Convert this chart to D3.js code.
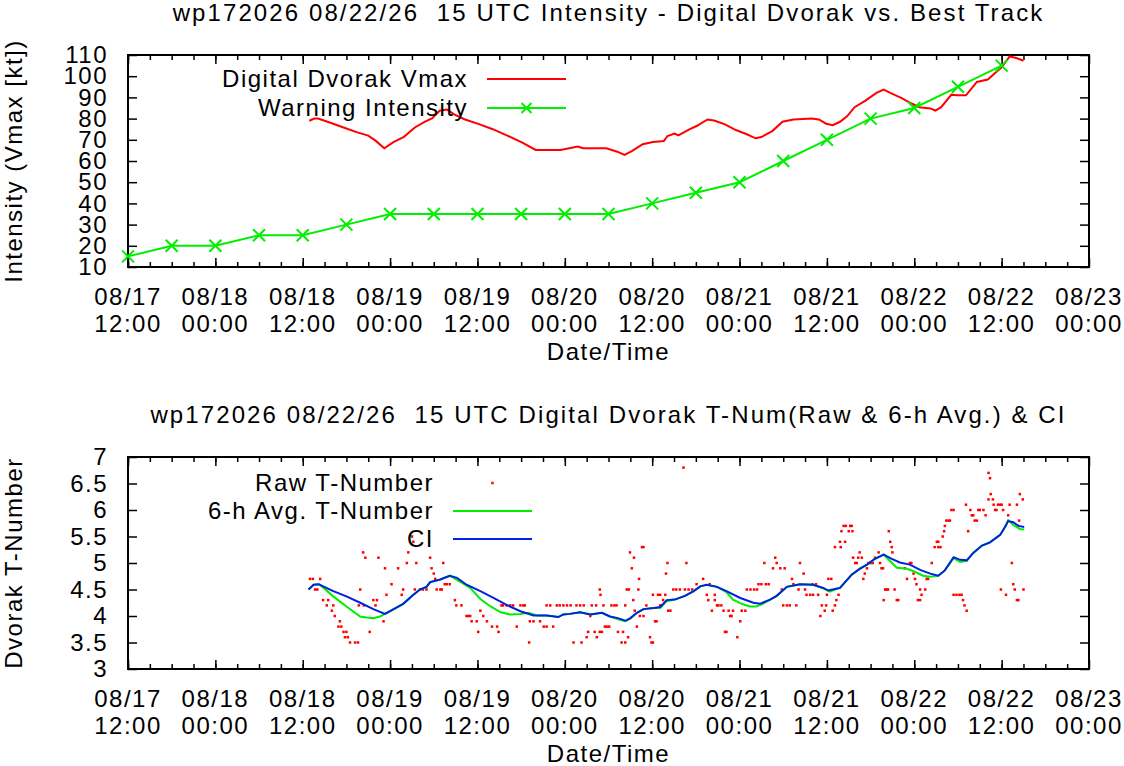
<!DOCTYPE html>
<html>
<head>
<meta charset="utf-8">
<script src="https://cdn.jsdelivr.net/npm/d3@7"></script>
<style>
  html, body { margin: 0; padding: 0; background: #fff; }
  svg text { font-family: "Liberation Sans", Arial, sans-serif; font-size: 24px; letter-spacing: 1.5px; fill: #000; }
  svg text.title { letter-spacing: 2.1px; white-space: pre; }
</style>
</head>
<body>
<div id="chart"></div>
<script>
// times are hours after 08/17 12:00 UTC
const START = Date.UTC(2026, 7, 17, 12);

const xTickHours = [0, 12, 24, 36, 48, 60, 72, 84, 96, 108, 120, 132];
const xTickLabels = [
  ['08/17', '12:00'], ['08/18', '00:00'], ['08/18', '12:00'], ['08/19', '00:00'],
  ['08/19', '12:00'], ['08/20', '00:00'], ['08/20', '12:00'], ['08/21', '00:00'],
  ['08/21', '12:00'], ['08/22', '00:00'], ['08/22', '12:00'], ['08/23', '00:00']
];

const vmaxTicks = [10, 20, 30, 40, 50, 60, 70, 80, 90, 100, 110];
const tnumTicks = [3, 3.5, 4, 4.5, 5, 5.5, 6, 6.5, 7];

// best track / warning intensity, every 6 h
const warnHours = [0, 6, 12, 18, 24, 30, 36, 42, 48, 54, 60, 66, 72, 78, 84, 90, 96, 102, 108, 114, 120];
const warnKt = [15, 20, 20, 25, 25, 30, 35, 35, 35, 35, 35, 35, 40, 45, 50, 60, 70, 80, 85, 95, 105];

// digital dvorak vmax [hour, kt]
const vmax = [
  [24.9, 79], [25.6, 80], [26.1, 80], [28.1, 77.7], [29.6, 75.8], [31.5, 73.5], [33, 72], [34, 69.6],
  [35.2, 66], [36.4, 68.8], [37.9, 71.4], [39.4, 75.8], [40.8, 78.6], [41.8, 80.2], [42.8, 83.7],
  [43.8, 84.3], [44.8, 82], [46.2, 79.7], [48.2, 77.4], [50.1, 75], [52.1, 72], [54.1, 68.8],
  [56, 65.2], [59.4, 65.2], [61.8, 66.8], [62.5, 66], [65.7, 66], [67.2, 64.4], [68.2, 62.9],
  [69.2, 64.7], [70.7, 67.9], [72.1, 69], [73.6, 69.4], [74.1, 71.8], [75.1, 72.9], [75.6, 72.1],
  [77.1, 74.9], [78.1, 76.5], [79.6, 79.6], [80.5, 79.1], [82, 77.3], [83.5, 74.6], [85, 72.6],
  [86.2, 70.7], [87, 71.3], [88.5, 74.1], [89.9, 78.5], [91.4, 79.6], [93.9, 80.1], [94.9, 79.6],
  [95.9, 77.6], [96.8, 76.9], [97.8, 78.5], [98.8, 81.2], [99.8, 85.4], [101.3, 88.5], [102.8, 92.1],
  [103.8, 93.7], [104.7, 92.1], [106.2, 89.8], [107.7, 87], [108.7, 85.4], [110.2, 84.8],
  [110.9, 83.8], [111.7, 85.4], [113.1, 91.3], [113.9, 91], [115.1, 91], [116.6, 97.3],
  [118.1, 98.4], [119.1, 101.5], [120, 104.2], [121.1, 109.3], [122, 108.6], [123, 107.3]
];

// current intensity (CI) [hour, T]
const ci = [
  [24.8, 4.50], [25.5, 4.59], [26.2, 4.60], [26.8, 4.56], [28.2, 4.47], [30, 4.37], [31.9, 4.25],
  [33.7, 4.13], [35.3, 4.04], [36.5, 4.13], [37.8, 4.23], [39.2, 4.40], [40.1, 4.50], [41, 4.55],
  [41.5, 4.64], [42.9, 4.69], [44.2, 4.76], [45.2, 4.72], [46.5, 4.59], [48.4, 4.47], [50.2, 4.34],
  [52, 4.21], [53.9, 4.09], [55.7, 4.01], [57.5, 4.01], [59.1, 3.98], [59.8, 4.03], [60.7, 4.04],
  [62.1, 4.07], [63.5, 4.03], [65.1, 4.06], [66.2, 3.99], [67.3, 3.96], [68.3, 3.91], [69, 3.96],
  [69.9, 4.06], [70.8, 4.13], [72.2, 4.15], [73.1, 4.17], [74, 4.30], [75.1, 4.31], [76.5, 4.38],
  [77.7, 4.47], [78.6, 4.56], [79.5, 4.59], [80.9, 4.55], [82.2, 4.47], [84.1, 4.34], [85.9, 4.25],
  [86.8, 4.23], [88.2, 4.31], [89.1, 4.38], [90.5, 4.55], [92.3, 4.60], [94.1, 4.59], [95.5, 4.53],
  [96.2, 4.48], [97.1, 4.51], [97.8, 4.53], [98.5, 4.64], [99.4, 4.78], [100.5, 4.89], [101.5, 4.97],
  [102.6, 5.08], [103.8, 5.16], [104.7, 5.09], [106, 5.01], [107.4, 4.97], [108.8, 4.87],
  [110.2, 4.80], [111.3, 4.76], [112.2, 4.86], [113.4, 5.11], [114.3, 5.06], [115.2, 5.05],
  [116.1, 5.19], [117.3, 5.33], [118.4, 5.39], [119.8, 5.53], [120.5, 5.69], [120.9, 5.79],
  [121.6, 5.77], [122.3, 5.70], [123.1, 5.68]
];

// 6-h average T-number [hour, T]
const avg6h = [
  [24.8, 4.50], [25.5, 4.59], [26.2, 4.60], [26.8, 4.54], [28.2, 4.37], [30, 4.18], [31.9, 3.99],
  [32.8, 3.97], [33.7, 3.96], [34.6, 3.99], [35.3, 4.04], [36.5, 4.13], [37.8, 4.23], [39.2, 4.40],
  [40.1, 4.50], [41, 4.55], [41.5, 4.64], [42.9, 4.69], [44.2, 4.76], [45.6, 4.65], [47, 4.53],
  [48.4, 4.32], [49.8, 4.18], [51.2, 4.07], [52.5, 4.03], [53.9, 4.04], [55, 4.06], [56.2, 4.01],
  [57.5, 4.01], [59.1, 3.98], [59.8, 4.03], [60.7, 4.04], [62.1, 4.07], [63.5, 4.03], [65.1, 4.06],
  [66.2, 3.99], [67.3, 3.94], [68.3, 3.90], [69, 3.95], [69.9, 4.06], [70.8, 4.13], [72.2, 4.15],
  [73.1, 4.15], [74, 4.28], [75.1, 4.31], [76.5, 4.38], [77.7, 4.47], [78.6, 4.56], [79.5, 4.59],
  [80.9, 4.55], [82.2, 4.45], [83.1, 4.31], [84.3, 4.23], [85.4, 4.18], [86.3, 4.18], [87.2, 4.23],
  [88.2, 4.31], [89.1, 4.38], [90.5, 4.55], [92.3, 4.60], [94.1, 4.59], [95.5, 4.52], [96.4, 4.46],
  [97.1, 4.50], [97.8, 4.53], [98.5, 4.64], [99.4, 4.78], [100.5, 4.89], [101.5, 4.97], [102.6, 5.08],
  [103.8, 5.16], [104.5, 5.06], [105.6, 4.91], [107, 4.89], [108, 4.84], [109.2, 4.76], [110.2, 4.74],
  [111.3, 4.76], [112.2, 4.86], [113.4, 5.09], [114.3, 5.02], [115.2, 5.04], [116.1, 5.19],
  [117.3, 5.33], [118.4, 5.39], [119.8, 5.53], [120.5, 5.69], [120.9, 5.81], [121.6, 5.72],
  [122.5, 5.64], [123.1, 5.63]
];

// raw T-number [hour, T]
const rawT = [
  [25.0, 4.7], [25.4, 4.7], [25.7, 4.5], [26.0, 4.5], [26.4, 4.7], [26.8, 4.3], [27.3, 4.2], [27.5, 4.3],
  [28.0, 4.1], [28.2, 4.2], [28.4, 4.0], [28.9, 3.8], [29.1, 3.9], [29.3, 3.8], [29.6, 3.7], [29.8, 3.6],
  [30.0, 3.7], [30.2, 3.6], [30.5, 3.5], [31.2, 3.5], [31.6, 3.5], [31.7, 4.2], [31.9, 4.5], [32.3, 5.2],
  [32.4, 4.2], [32.6, 5.1], [33.2, 3.7], [33.7, 4.3], [34.0, 4.2], [34.2, 4.3], [34.4, 5.1], [35.1, 3.9],
  [35.3, 4.9], [35.5, 4.4], [36.2, 4.6], [37.1, 4.9], [37.6, 4.4], [37.8, 4.5], [38.3, 5.0], [38.5, 5.2],
  [39.0, 5.5], [39.2, 5.4], [39.4, 4.5], [39.6, 5.0], [40.1, 4.5], [40.5, 4.5], [41.0, 4.5], [41.5, 5.1],
  [41.7, 4.9], [42.0, 4.8], [42.2, 4.7], [42.4, 4.5], [42.9, 4.5], [43.1, 4.5], [43.3, 5.0], [43.5, 4.6],
  [43.8, 4.6], [44.2, 4.6], [44.9, 4.3], [45.1, 4.2], [45.8, 4.2], [46.5, 4.0], [46.7, 4.0], [47.0, 4.0],
  [47.2, 3.9], [47.9, 3.9], [48.1, 3.7], [48.4, 4.1], [48.8, 4.0], [49.3, 3.9], [50.0, 3.8], [50.7, 3.8],
  [50.9, 3.7], [51.3, 4.2], [51.5, 4.2], [52.0, 4.2], [52.5, 4.2], [52.9, 4.2], [53.4, 3.8], [53.9, 4.2],
  [54.3, 4.2], [54.5, 4.2], [55.1, 3.5], [55.2, 3.9], [55.7, 3.9], [56.6, 3.9], [57.1, 3.8], [57.5, 3.8],
  [57.5, 4.2], [58.0, 4.2], [58.4, 3.8], [58.9, 4.2], [59.3, 4.2], [59.8, 4.2], [60.3, 4.2], [60.8, 4.2],
  [61.2, 3.5], [61.6, 4.2], [62.1, 4.2], [62.3, 3.5], [62.6, 4.2], [63.0, 3.6], [63.2, 3.7], [63.5, 4.0],
  [63.7, 4.2], [64.1, 3.7], [64.3, 4.2], [64.4, 3.6], [64.8, 3.7], [64.8, 4.5], [64.9, 4.4], [65.1, 3.7],
  [65.3, 4.2], [65.5, 3.8], [65.8, 3.8], [66.1, 3.8], [66.4, 4.2], [66.8, 4.2], [67.1, 4.2], [67.3, 3.7],
  [67.8, 3.5], [68.0, 3.7], [68.3, 3.5], [68.3, 4.2], [68.5, 4.5], [68.7, 3.6], [68.8, 4.5], [68.95, 5.2],
  [69.2, 4.9], [69.4, 4.3], [69.5, 5.1], [69.6, 4.1], [69.9, 3.8], [70.1, 4.5], [70.2, 4.7], [70.3, 4.0],
  [70.6, 5.3], [70.8, 5.3], [70.8, 4.0], [71.2, 4.2], [71.7, 3.6], [71.9, 3.5], [72.1, 3.5], [72.1, 4.4],
  [72.4, 3.9], [72.6, 3.9], [72.8, 4.4], [73.1, 4.4], [73.1, 4.2], [73.3, 4.2], [73.5, 4.3], [73.8, 4.4],
  [73.9, 4.8], [74.1, 5.0], [74.2, 4.1], [74.5, 4.1], [74.9, 4.5], [75.3, 4.5], [75.8, 4.5], [76.3, 6.8],
  [76.5, 4.5], [76.7, 5.0], [77.0, 4.5], [77.5, 4.5], [78.1, 4.6], [79.0, 4.7], [79.5, 4.4], [79.7, 4.3],
  [79.9, 4.6], [80.2, 4.1], [80.6, 4.3], [80.6, 4.4], [80.9, 4.2], [81.1, 4.2], [81.5, 4.2], [81.8, 4.1],
  [82.0, 3.7], [82.2, 3.7], [82.5, 4.1], [82.7, 4.0], [82.9, 4.0], [83.1, 4.1], [83.7, 3.6], [84.1, 3.9],
  [84.3, 4.1], [84.8, 4.1], [85.0, 4.5], [85.5, 4.5], [86.0, 4.5], [86.4, 4.5], [86.6, 4.6], [87.0, 4.6],
  [87.4, 5.0], [87.6, 4.6], [88.0, 4.6], [88.6, 4.9], [88.9, 5.1], [89.1, 5.0], [89.6, 4.9], [89.8, 4.5],
  [90.0, 4.2], [90.2, 4.9], [90.5, 4.2], [90.9, 4.2], [91.2, 4.7], [91.4, 4.6], [91.8, 4.2], [92.1, 4.5],
  [92.3, 5.0], [92.8, 4.8], [93.0, 4.5], [93.2, 4.4], [93.7, 4.4], [94.0, 4.6], [94.1, 4.4], [94.5, 4.6],
  [94.8, 4.4], [95.1, 4.0], [95.3, 4.2], [95.7, 4.1], [95.9, 4.2], [96.0, 4.4], [96.2, 4.7], [96.6, 4.7],
  [96.8, 4.1], [97.1, 4.2], [97.1, 5.3], [97.3, 4.3], [97.6, 4.4], [97.8, 5.4], [97.9, 5.3], [98.0, 5.6],
  [98.3, 5.7], [98.5, 5.4], [98.6, 5.7], [99.0, 5.6], [99.2, 5.7], [99.4, 5.7], [99.5, 5.6], [99.6, 5.1],
  [99.9, 5.0], [100.1, 5.0], [100.3, 5.1], [100.5, 5.2], [100.8, 5.1], [101.0, 4.7], [101.2, 4.8],
  [101.5, 4.9], [101.7, 5.0], [102.0, 5.0], [102.3, 5.0], [102.6, 5.1], [103.1, 5.2], [103.3, 5.0],
  [103.5, 4.9], [103.7, 4.9], [103.8, 4.3], [104.0, 4.5], [104.2, 4.5], [104.4, 4.5], [104.5, 5.6],
  [104.7, 5.4], [104.9, 5.3], [105.0, 5.2], [105.3, 4.5], [105.6, 4.3], [105.8, 4.3], [106.7, 4.9],
  [107.0, 4.7], [107.4, 5.0], [107.6, 5.0], [107.9, 4.8], [108.1, 4.7], [108.3, 4.6], [108.5, 4.3],
  [108.8, 4.5], [108.8, 4.3], [109.0, 4.4], [109.5, 4.5], [109.7, 4.7], [109.9, 4.7], [110.4, 5.0],
  [110.8, 5.3], [111.1, 5.4], [111.3, 5.4], [111.3, 5.3], [111.6, 5.3], [111.9, 5.5], [112.1, 5.6],
  [112.2, 5.7], [112.4, 5.8], [112.7, 5.8], [112.9, 5.8], [113.1, 6.0], [113.4, 6.0], [113.4, 4.4],
  [113.8, 4.4], [114.2, 4.4], [114.5, 4.4], [114.7, 4.3], [114.9, 4.2], [115.1, 6.1], [115.2, 4.1],
  [115.4, 5.6], [115.7, 6.0], [115.9, 5.9], [116.1, 5.9], [116.3, 5.8], [116.6, 5.8], [116.8, 6.0],
  [117.0, 6.0], [117.5, 6.0], [117.8, 5.9], [118.2, 6.2], [118.2, 6.7], [118.4, 6.6], [118.5, 6.3],
  [118.8, 6.2], [118.9, 6.1], [119.1, 6.0], [119.3, 6.0], [119.5, 6.1], [119.8, 6.1], [120.0, 6.1],
  [119.9, 4.5], [120.2, 6.0], [120.6, 4.4], [120.9, 5.9], [121.1, 6.1], [121.4, 5.0], [121.6, 4.6],
  [121.8, 4.5], [122.1, 4.3], [122.3, 4.3], [122.1, 6.1], [122.4, 5.8], [122.5, 6.3], [122.9, 6.2],
  [123.0, 4.5]
];

const RED = '#ff0000', GREEN = '#00ee00', BLUE = '#0022e0';
const W = 1124, H = 766;
const LEFT = 128, RIGHT = 1089;

function toDate(h) {
  return new Date(START + h * 3600 * 1000);
}

const svg = d3.select('#chart')
  .append('svg')
  .attr('xmlns', 'http://www.w3.org/2000/svg')
  .attr('width', W)
  .attr('height', H);

const x = d3.scaleUtc()
  .domain([toDate(0), toDate(132)])
  .range([LEFT, RIGHT]);

/**
 * Frame, ticks, tick labels and titles for one panel.
 */
function drawPanel(y, top, bottom, yTicks, title, yTitle) {
  const g = svg.append('g');
  const majors = xTickHours.map(toDate);
  const minors = d3.utcHour.every(3).range(toDate(0), toDate(132));

  // x ticks, bottom and mirrored on top, pointing inwards
  g.append('g').attr('transform', `translate(0,${bottom})`)
    .call(d3.axisBottom(x).tickValues(minors).tickSize(-5).tickFormat(''));
  g.append('g').attr('transform', `translate(0,${bottom})`)
    .call(d3.axisBottom(x).tickValues(majors).tickSize(-9).tickFormat(''));
  g.append('g').attr('transform', `translate(0,${top})`)
    .call(d3.axisTop(x).tickValues(minors).tickSize(-5).tickFormat(''));
  g.append('g').attr('transform', `translate(0,${top})`)
    .call(d3.axisTop(x).tickValues(majors).tickSize(-9).tickFormat(''));

  g.append('g').attr('transform', `translate(${LEFT},0)`)
    .call(d3.axisLeft(y).tickValues(yTicks).tickSize(-9).tickPadding(20).tickFormat(d3.format('')));
  g.append('g').attr('transform', `translate(${RIGHT},0)`)
    .call(d3.axisRight(y).tickValues(yTicks).tickSize(-9).tickFormat(''));

  g.selectAll('.domain').remove();
  g.selectAll('.tick line').attr('stroke', '#000').attr('stroke-width', 1.5);
  g.selectAll('.tick text')
    .attr('font-size', null)
    .attr('font-family', null)
    .attr('fill', '#000');

  g.append('rect')
    .attr('x', LEFT)
    .attr('y', top)
    .attr('width', RIGHT - LEFT)
    .attr('height', bottom - top)
    .attr('fill', 'none')
    .attr('stroke', '#000')
    .attr('stroke-width', 2);

  const lab = g.append('g')
    .selectAll('text')
    .data(xTickLabels)
    .join('text')
    .attr('text-anchor', 'middle')
    .attr('transform', (d, i) => `translate(${x(majors[i])},${bottom + 38})`);
  lab.append('tspan').attr('x', 0).attr('y', 0).text(d => d[0]);
  lab.append('tspan').attr('x', 0).attr('y', 27).text(d => d[1]);

  g.append('text')
    .attr('x', (LEFT + RIGHT) / 2)
    .attr('y', bottom + 93)
    .attr('text-anchor', 'middle')
    .text('Date/Time');

  g.append('text')
    .attr('class', 'title')
    .attr('x', (LEFT + RIGHT) / 2)
    .attr('y', top - 34)
    .attr('text-anchor', 'middle')
    .text(title);

  g.append('text')
    .attr('transform', `translate(22,${(top + bottom) / 2}) rotate(-90)`)
    .attr('text-anchor', 'middle')
    .text(yTitle);
  return g;
}

// ---- top panel: intensity
const yTop = d3.scaleLinear().domain([10, 110]).range([267, 55]);
drawPanel(yTop, 55, 267, vmaxTicks,
  'wp172026 08/22/26  15 UTC Intensity - Digital Dvorak vs. Best Track',
  'Intensity (Vmax [kt])');

const lineTop = d3.line()
  .x(d => x(toDate(d[0])))
  .y(d => yTop(d[1]));

svg.append('path')
  .datum(vmax)
  .attr('fill', 'none')
  .attr('stroke', RED)
  .attr('stroke-width', 2)
  .attr('d', lineTop);

const warn = warnHours.map((h, i) => [h, warnKt[i]]);
svg.append('path')
  .datum(warn)
  .attr('fill', 'none')
  .attr('stroke', GREEN)
  .attr('stroke-width', 2)
  .attr('d', lineTop);

const cross = 'M-6,-6L6,6M-6,6L6,-6';
svg.append('g')
  .selectAll('path')
  .data(warn)
  .join('path')
  .attr('transform', d => `translate(${x(toDate(d[0]))},${yTop(d[1])})`)
  .attr('d', cross)
  .attr('stroke', GREEN)
  .attr('stroke-width', 2);

// top legend
const legTop = svg.append('g');
[['Digital Dvorak Vmax', RED, 79, false], ['Warning Intensity', GREEN, 108, true]].forEach(e => {
  legTop.append('text')
    .attr('x', 468)
    .attr('y', e[2])
    .attr('dy', '0.35em')
    .attr('text-anchor', 'end')
    .text(e[0]);
  legTop.append('line')
    .attr('x1', 487).attr('x2', 566)
    .attr('y1', e[2]).attr('y2', e[2])
    .attr('stroke', e[1])
    .attr('stroke-width', 2);
  if (e[3]) {
    legTop.append('path')
      .attr('transform', `translate(526.5,${e[2]})`)
      .attr('d', 'M-5,-5L5,5M-5,5L5,-5')
      .attr('stroke', e[1])
      .attr('stroke-width', 2);
  }
});

// ---- bottom panel: T-numbers
const yBot = d3.scaleLinear().domain([3, 7]).range([669, 457]);
drawPanel(yBot, 457, 669, tnumTicks,
  'wp172026 08/22/26  15 UTC Digital Dvorak T-Num(Raw & 6-h Avg.) & CI',
  'Dvorak T-Number');

const lineBot = d3.line()
  .x(d => x(toDate(d[0])))
  .y(d => yBot(d[1]));

svg.append('g')
  .selectAll('rect')
  .data(rawT)
  .join('rect')
  .attr('x', d => x(toDate(d[0])) - 1.25)
  .attr('y', d => yBot(d[1]) - 1.25)
  .attr('width', 2.5)
  .attr('height', 2.5)
  .attr('fill', RED);

svg.append('path')
  .datum(avg6h)
  .attr('fill', 'none')
  .attr('stroke', GREEN)
  .attr('stroke-width', 2)
  .attr('d', lineBot);

svg.append('path')
  .datum(ci)
  .attr('fill', 'none')
  .attr('stroke', BLUE)
  .attr('stroke-width', 2)
  .attr('d', lineBot);

// bottom legend
const legBot = svg.append('g');
[['Raw T-Number', RED, 483, 'dot'], ['6-h Avg. T-Number', GREEN, 511, 'line'], ['CI', BLUE, 539, 'line']]
  .forEach(e => {
    legBot.append('text')
      .attr('x', 434)
      .attr('y', e[2])
      .attr('dy', '0.35em')
      .attr('text-anchor', 'end')
      .text(e[0]);
    if (e[3] == 'dot') {
      legBot.append('rect')
        .attr('x', 491.2).attr('y', e[2] - 1.25)
        .attr('width', 2.5).attr('height', 2.5)
        .attr('fill', e[1]);
    } else {
      legBot.append('line')
        .attr('x1', 453).attr('x2', 532)
        .attr('y1', e[2]).attr('y2', e[2])
        .attr('stroke', e[1])
        .attr('stroke-width', 2);
    }
  });
</script>
</body>
</html>
